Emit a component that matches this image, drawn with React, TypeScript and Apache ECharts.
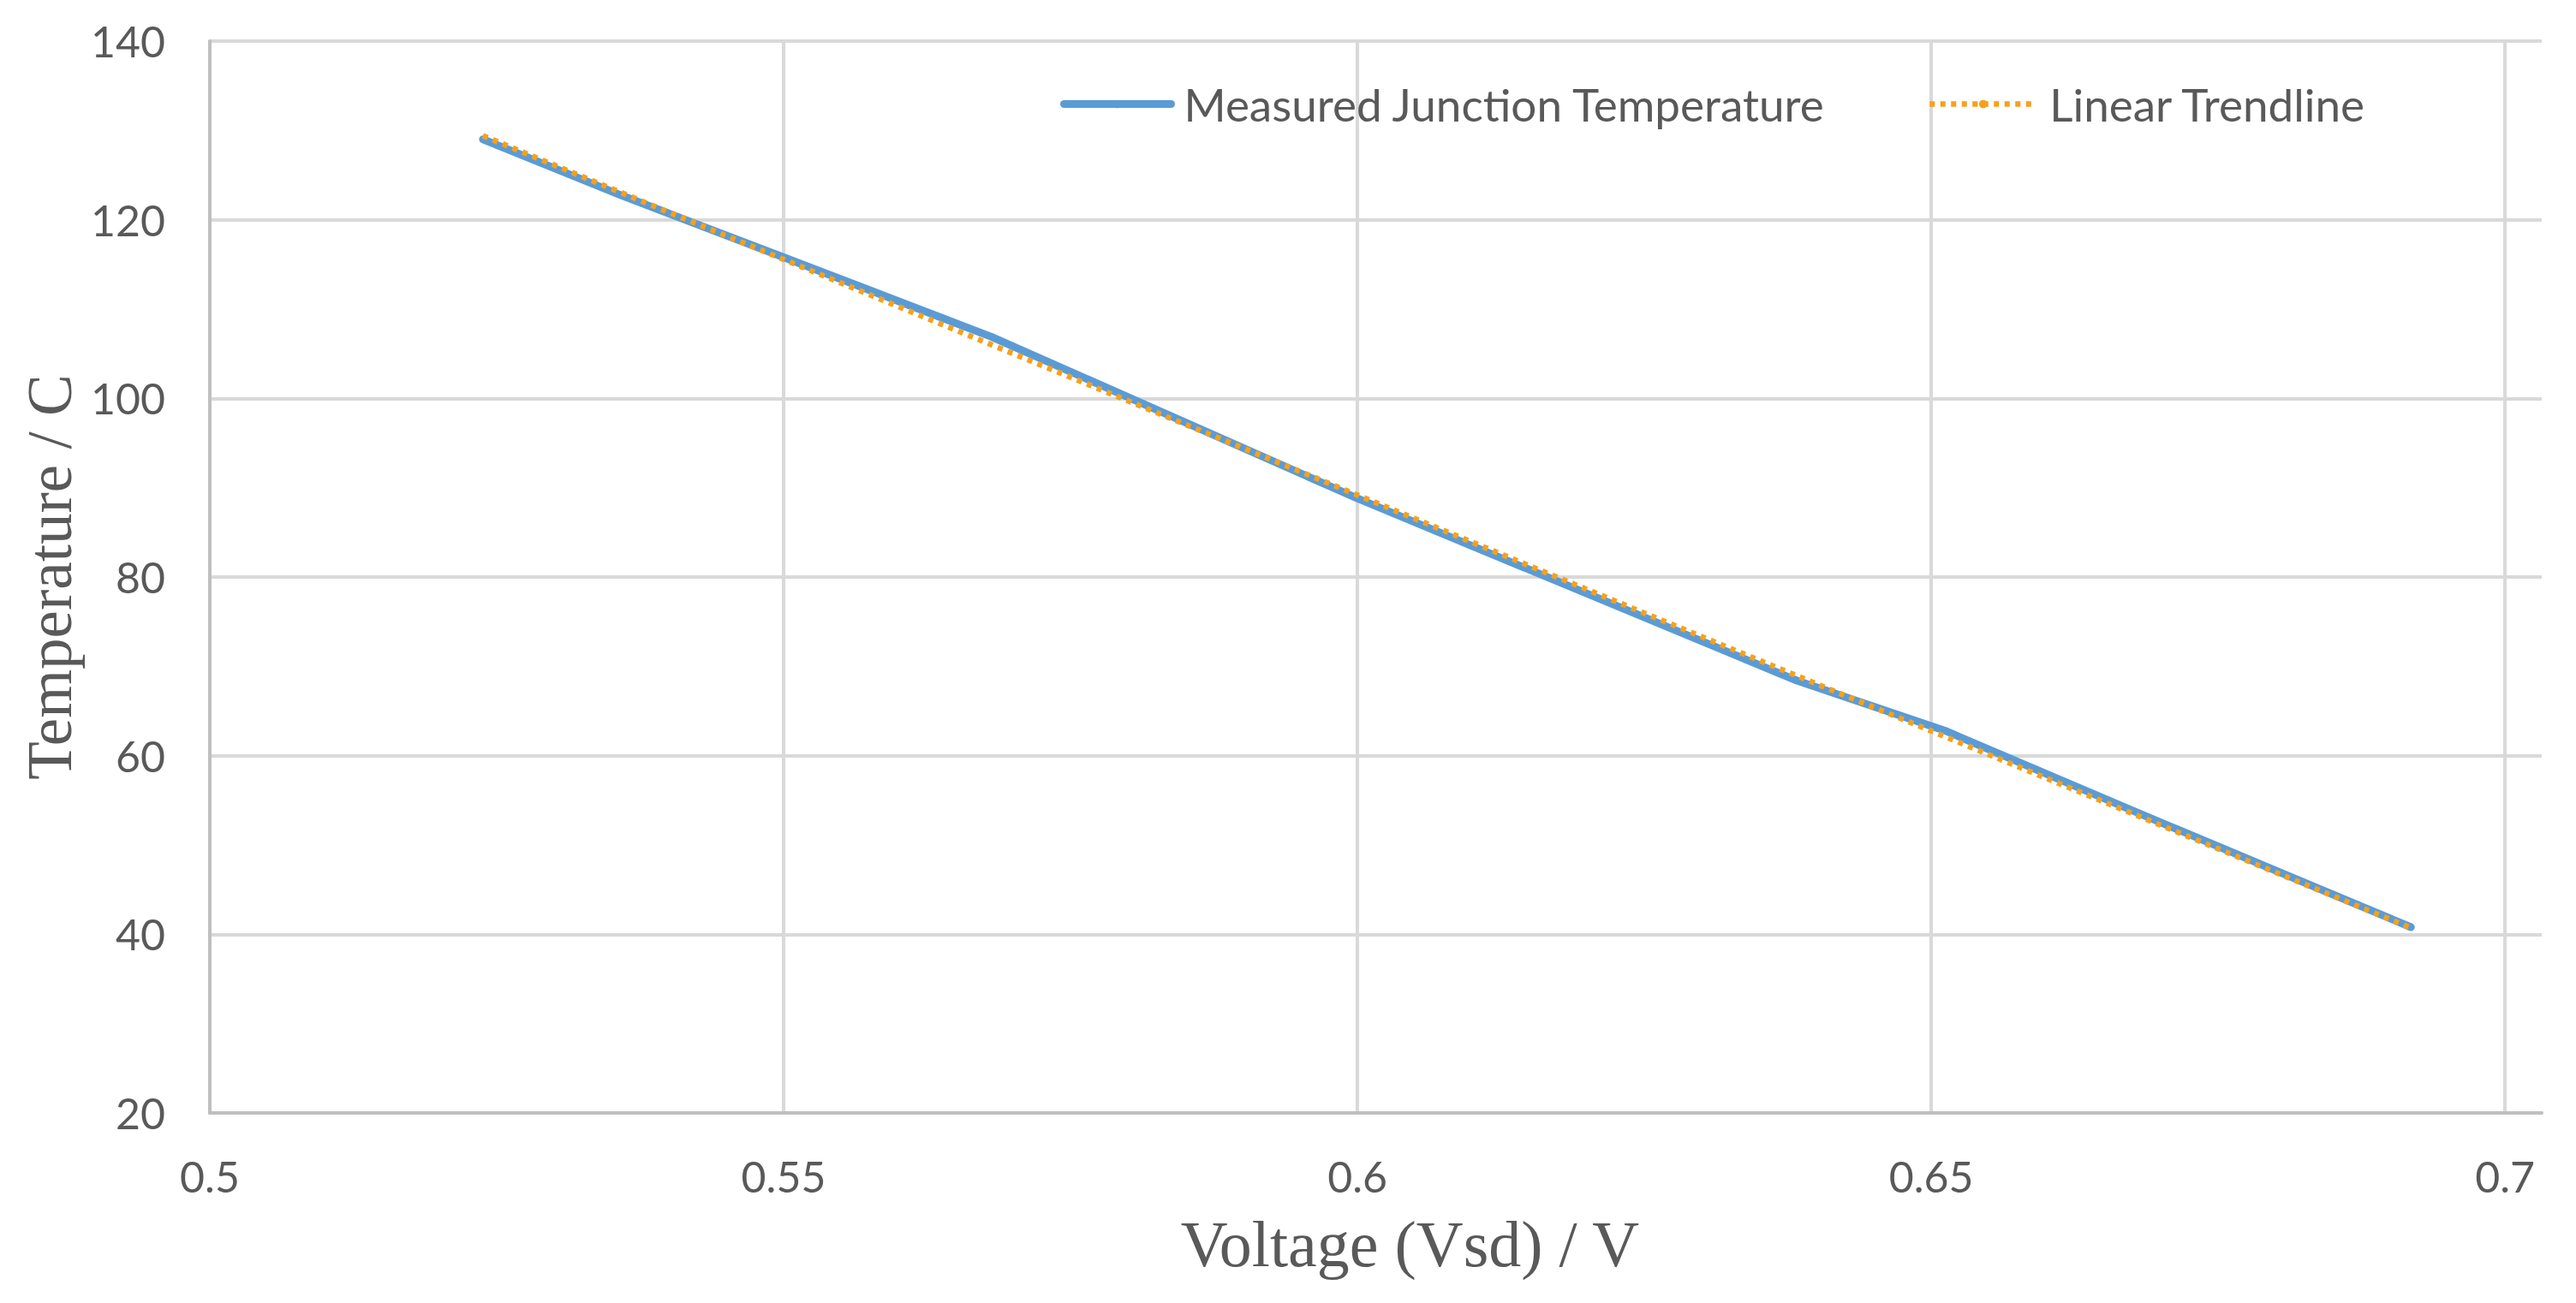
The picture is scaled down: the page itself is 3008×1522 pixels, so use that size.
import { useEffect, useRef } from 'react';
import * as echarts from 'echarts';

// ─── Data ─────────────────────────────────────────────────────────────────────

const voltage = [0.5238, 0.5357, 0.55, 0.5681, 0.6, 0.6383, 0.6512, 0.668, 0.6918];
const temperature = [129.0, 122.8, 115.8, 106.9, 88.8, 68.4, 62.8, 53.6, 40.8];

const trendVoltage = [0.5238, 0.6918];
const trendTemperature = [129.4, 40.7];

const xTicks = [0.5, 0.55, 0.6, 0.65, 0.7];
const yTicks = [20, 40, 60, 80, 100, 120, 140];

const MEASURED = 'Measured Junction Temperature';
const TREND = 'Linear Trendline';

// ─── Styles ───────────────────────────────────────────────────────────────────

const BLUE = '#5B9BD5';
const ORANGE = '#F7A11A';
const TEXT = '#595959';
const GRID = '#D9D9D9';
const AXIS = '#BFBFBF';
const SANS = 'Lato';
const SERIF = '"Liberation Serif", "Times New Roman", serif';

function buildOption(): echarts.EChartsOption {
  const legendText = { color: TEXT, fontFamily: SANS, fontSize: 53, padding: [0, 0, 0, 10] };
  return {
    animation: false,
    backgroundColor: '#ffffff',
    grid: { left: 245, right: 40, top: 48, bottom: 222 },
    legend: [
      {
        data: [{ name: MEASURED, lineStyle: { width: 9, cap: 'round' } }],
        left: 1238,
        top: 95,
        padding: 0,
        itemWidth: 125,
        itemHeight: 12,
        textStyle: legendText,
      },
      {
        data: [{ name: TREND, lineStyle: { width: 6.5, type: [6, 6.5] } }],
        left: 2250,
        top: 95,
        padding: 0,
        itemWidth: 125,
        itemHeight: 12,
        textStyle: legendText,
      },
    ],
    xAxis: {
      type: 'value',
      min: xTicks[0],
      max: 0.7032,
      interval: 0.05,
      name: 'Voltage (Vsd) / V',
      nameLocation: 'middle',
      nameGap: 115,
      nameTextStyle: { color: TEXT, fontFamily: SERIF, fontSize: 76, padding: [0, 0, 0, 80] },
      axisLine: { show: true, lineStyle: { color: AXIS, width: 4 } },
      axisTick: { show: false },
      axisLabel: {
        color: TEXT,
        fontFamily: SANS,
        fontSize: 50,
        margin: 49,
        showMaxLabel: false,
        formatter: (v: number) => (xTicks.some((t) => Math.abs(t - v) < 1e-9) ? String(v) : ''),
      },
      splitLine: {
        show: true,
        showMinLine: false,
        showMaxLine: false,
        lineStyle: { color: GRID, width: 4 },
      },
    },
    yAxis: {
      type: 'value',
      min: yTicks[0],
      max: yTicks[yTicks.length - 1],
      interval: 20,
      name: 'Temperature / C',
      nameLocation: 'middle',
      nameGap: 148,
      nameTextStyle: { color: TEXT, fontFamily: SERIF, fontSize: 73 },
      axisLine: { show: true, lineStyle: { color: AXIS, width: 4 } },
      axisTick: { show: false },
      axisLabel: { color: TEXT, fontFamily: SANS, fontSize: 50, margin: 52 },
      splitLine: { show: true, lineStyle: { color: GRID, width: 4 } },
    },
    series: [
      {
        name: MEASURED,
        type: 'line',
        data: voltage.map((v, i) => [v, temperature[i]]),
        showSymbol: false,
        symbol: 'none',
        lineStyle: { color: BLUE, width: 9, cap: 'round', join: 'round' },
        itemStyle: { color: BLUE },
        z: 2,
      },
      {
        name: TREND,
        type: 'line',
        data: trendVoltage.map((v, i) => [v, trendTemperature[i]]),
        showSymbol: false,
        symbol: 'none',
        lineStyle: { color: ORANGE, width: 6.5, type: [6, 6.5] },
        itemStyle: { color: ORANGE },
        z: 3,
      },
    ],
  };
}

// ─── Component ────────────────────────────────────────────────────────────────

export default function App() {
  const containerRef = useRef<HTMLDivElement>(null);

  useEffect(() => {
    if (!containerRef.current) return;
    const chart = echarts.init(containerRef.current, null, { renderer: 'svg' });
    chart.setOption(buildOption());
    return () => chart.dispose();
  }, []);

  return (
    <div
      ref={containerRef}
      style={{ position: 'fixed', left: 0, top: 0, width: '100vw', height: '100vh', background: '#fff' }}
    />
  );
}
